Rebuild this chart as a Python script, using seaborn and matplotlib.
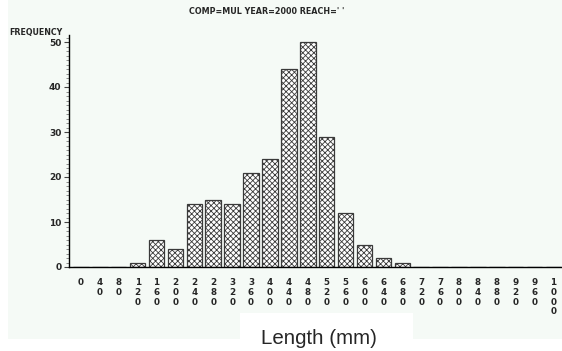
import pandas as pd
import matplotlib
matplotlib.use("Agg")
import matplotlib.pyplot as plt
import seaborn as sns
from matplotlib.patches import Rectangle
from matplotlib.ticker import MultipleLocator

# === Data ===
lengths = [0, 40, 80, 120, 160, 200, 240, 280, 320, 360, 400, 440, 480,
           520, 560, 600, 640, 680, 720, 760, 800, 840, 880, 920, 960, 1000]
freq = [0, 0, 0, 1, 6, 4, 14, 15, 14, 21, 24, 44, 50,
        29, 12, 5, 2, 1, 0, 0, 0, 0, 0, 0, 0, 0]

df = pd.DataFrame({"length": [str(v) for v in lengths], "freq": freq})

MINT = "#f5faf6"
plt.rcParams["hatch.linewidth"] = 0.6

sns.set_style("white")
fig = plt.figure(figsize=(5.62, 3.51), dpi=100, facecolor="white")

# --- background panels ---
W, H = 562, 351
fig.patches.append(Rectangle((8 / W, 12 / H), 1 - 8 / W, 1 - 12 / H,
                             transform=fig.transFigure, facecolor=MINT,
                             edgecolor="none", zorder=-10))
fig.patches.append(Rectangle((240 / W, 0), 173 / W, 38 / H,
                             transform=fig.transFigure, facecolor="white",
                             edgecolor="none", zorder=-9))

# axes: left at x=69px, value 0 at y=267px, top at ~35px
ax = fig.add_axes([69 / W, (H - 267) / H, (W - 69) / W, (267 - 35.25) / H])
ax.set_facecolor("none")
ax.set_zorder(2)

sns.barplot(data=df, x="length", y="freq", order=df["length"], ax=ax,
            color="white", edgecolor="#3a3a3a", linewidth=0.9, width=0.82,
            saturation=1)
for p in ax.patches:
    p.set_hatch("xxxxxx")
    p.set_facecolor("white")

ax.set_xlim(-0.63, 25.45)
ax.set_ylim(0, 51.5)

# --- spines & ticks ---
for s in ["top", "right"]:
    ax.spines[s].set_visible(False)
for s in ["left", "bottom"]:
    ax.spines[s].set_color("black")
    ax.spines[s].set_linewidth(1.0)

ax.yaxis.set_major_locator(MultipleLocator(10))
ax.yaxis.set_minor_locator(MultipleLocator(1))
ax.tick_params(axis="y", which="major", left=True, length=3.5, width=0.8,
               pad=2, labelsize=6.5, color="#444444")
ax.tick_params(axis="y", which="minor", left=True, length=2, width=0.6,
               color="#777777")
for t in ax.get_yticklabels():
    t.set_fontweight("bold")

ax.set_xticks(range(len(lengths)))
ax.set_xticklabels(["\n".join(str(v)) for v in lengths], fontsize=6.3,
                   fontweight="bold", linespacing=1.1, va="top")
ax.tick_params(axis="x", length=0, pad=8)

ax.set_xlabel("")
ax.set_ylabel("")

# --- texts ---
fig.text(267 / W, 1 - 11 / H, "COMP=MUL YEAR=2000 REACH=' '", ha="center",
         va="center", fontsize=5.8, fontweight="bold")
fig.text(62 / W, 1 - 32 / H, "FREQUENCY", ha="right", va="center",
         fontsize=5.7, fontweight="bold")
fig.text(319 / W, 1 - 344 / H, "Length (mm)", ha="center", va="baseline",
         fontsize=14.8, family="Liberation Sans")

fig.savefig("out.png", dpi=100, facecolor="white")
